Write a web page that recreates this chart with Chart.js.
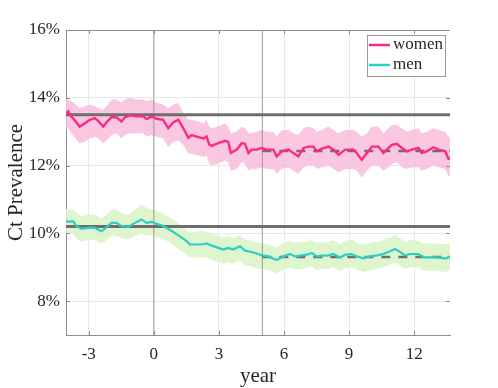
<!DOCTYPE html>
<html><head><meta charset="utf-8">
<script src="https://cdn.jsdelivr.net/npm/chart.js@4.4.0/dist/chart.umd.min.js"></script>
<style>html,body{margin:0;padding:0;background:#fff;}canvas{display:block;}</style>
</head><body>
<canvas id="c" width="498" height="388"></canvas>
<script>
// ---- data (years relative to intervention, prevalence in %) ----
const womenX = [-4.05,-3.95,-3.8,-3.6,-3.42,-3.18,-2.95,-2.72,-2.57,-2.33,
  -2.18,-1.95,-1.72,-1.49,-1.34,-1.1,-0.8,-0.49,-0.34,-0.1,
  0.12,0.43,0.66,0.9,1.13,1.36,1.59,1.74,2.05,2.3,
  2.43,2.55,2.66,2.97,3.28,3.43,3.55,3.82,4.05,4.2,
  4.36,4.51,4.74,4.97,5.2,5.51,5.66,5.89,6.2,6.43,
  6.66,6.9,7.12,7.36,7.51,7.74,8.05,8.28,8.51,8.82,
  9.2,9.35,9.58,9.82,10.05,10.35,10.58,10.82,10.97,11.2,
  11.43,11.66,11.89,12.2,12.35,12.58,12.89,13.12,13.43,13.58,
  13.65];
const womenY = [13.52,13.6,13.45,13.3,13.15,13.25,13.35,13.4,13.32,13.15,
  13.28,13.43,13.42,13.3,13.42,13.48,13.45,13.45,13.37,13.45,
  13.38,13.35,13.1,13.28,13.35,13.1,12.82,12.9,12.84,12.8,
  12.86,12.62,12.58,12.66,12.73,12.7,12.37,12.47,12.66,12.64,
  12.37,12.47,12.47,12.52,12.47,12.47,12.27,12.42,12.47,12.37,
  12.27,12.52,12.56,12.56,12.42,12.5,12.56,12.47,12.32,12.47,
  12.47,12.37,12.17,12.37,12.56,12.56,12.37,12.52,12.61,12.64,
  12.52,12.42,12.47,12.52,12.37,12.42,12.54,12.47,12.42,12.2,
  12.22];
const womenUpper = [14.0,13.95,13.9,13.8,13.7,13.75,13.8,13.75,13.7,13.65,
  13.75,13.95,13.95,13.85,13.95,14.0,13.95,13.95,13.9,13.95,
  13.85,13.8,13.7,13.8,13.85,13.55,13.35,13.35,13.3,13.25,
  13.35,13.15,13.1,13.15,13.25,13.15,12.95,13.0,13.15,13.1,
  12.95,12.95,13.0,13.05,13.0,13.0,12.85,13.05,13.05,12.95,
  12.9,13.1,13.15,13.1,13.0,13.05,13.15,13.05,12.95,13.05,
  13.05,13.0,12.85,12.95,13.15,13.15,12.95,13.1,13.2,13.2,
  13.1,13.0,13.05,13.1,12.95,13.0,13.1,13.05,13.0,12.85,
  12.85];
const womenLower = [13.05,13.1,12.95,12.8,12.65,12.7,12.8,12.85,12.8,12.65,
  12.75,12.9,12.95,12.8,12.9,12.95,12.95,12.95,12.85,12.9,
  12.85,12.8,12.55,12.7,12.75,12.6,12.35,12.35,12.3,12.25,
  12.3,12.05,12.0,12.05,12.15,12.1,11.85,11.9,12.1,12.05,
  11.85,11.9,11.9,11.95,11.9,11.9,11.75,11.9,11.95,11.85,
  11.75,11.95,12.0,12.0,11.9,11.95,12.0,11.9,11.8,11.9,
  11.9,11.85,11.65,11.85,12.0,12.0,11.85,11.95,12.05,12.1,
  11.95,11.9,11.95,11.95,11.85,11.9,12.0,11.95,11.9,11.7,
  11.7];

const menX = [-4.05,-3.95,-3.72,-3.57,-3.34,-3.03,-2.72,-2.41,-2.18,-1.95,
  -1.72,-1.49,-1.18,-0.95,-0.57,-0.34,-0.1,0.12,0.36,0.59,
  0.9,1.2,1.51,1.66,1.97,2.2,2.43,2.66,2.97,3.2,
  3.43,3.66,3.97,4.2,4.51,4.82,4.97,5.28,5.66,5.97,
  6.28,6.51,6.74,7.05,7.28,7.51,7.74,8.05,8.28,8.58,
  8.82,9.12,9.35,9.66,9.97,10.28,10.58,10.89,11.12,11.35,
  11.58,11.81,12.2,12.43,12.74,13.05,13.35,13.51,13.65];
const menY = [10.38,10.34,10.36,10.21,10.13,10.16,10.16,10.06,10.18,10.31,
  10.31,10.21,10.19,10.28,10.41,10.31,10.34,10.28,10.24,10.16,
  10.04,9.91,9.77,9.67,9.67,9.67,9.7,9.64,9.57,9.52,
  9.57,9.52,9.62,9.49,9.45,9.39,9.35,9.32,9.21,9.32,
  9.39,9.32,9.34,9.37,9.42,9.32,9.34,9.35,9.39,9.28,
  9.37,9.39,9.32,9.26,9.32,9.35,9.39,9.47,9.54,9.45,
  9.35,9.39,9.39,9.29,9.29,9.29,9.26,9.27,9.32];
const menUpper = [10.72,10.7,10.7,10.6,10.5,10.55,10.55,10.45,10.55,10.7,
  10.7,10.6,10.55,10.65,10.85,10.75,10.72,10.65,10.6,10.52,
  10.4,10.25,10.1,10.02,10.05,10.08,10.05,10.0,9.92,9.88,
  9.92,9.85,9.95,9.82,9.78,9.72,9.7,9.68,9.6,9.7,
  9.78,9.72,9.75,9.75,9.8,9.72,9.72,9.75,9.8,9.68,
  9.78,9.82,9.72,9.68,9.72,9.75,9.8,9.88,9.95,9.85,
  9.75,9.8,9.78,9.7,9.7,9.7,9.68,9.68,9.72];
const menLower = [10.0,9.98,9.98,9.85,9.75,9.8,9.8,9.7,9.8,9.92,
  9.92,9.85,9.82,9.9,10.0,9.92,9.95,9.9,9.85,9.78,
  9.65,9.5,9.38,9.28,9.28,9.28,9.3,9.22,9.15,9.1,
  9.15,9.1,9.2,9.05,9.02,8.95,8.95,8.92,8.82,8.92,
  9.0,8.92,8.95,8.98,9.02,8.92,8.95,8.95,9.0,8.88,
  8.98,9.0,8.92,8.86,8.92,8.95,9.0,9.08,9.12,9.05,
  8.95,9.0,9.0,8.9,8.9,8.9,8.86,8.87,8.92];

const baselineLevels = [13.5, 10.2];     // pre-intervention (women, men)
const postLevels = [12.43, 9.3];         // post period (women, men)
const postStartYear = 5;
const markerYears = [0, 5];
const xTicks = [-3, 0, 3, 6, 9, 12];
const yTicks = [8, 10, 12, 14, 16];
const xRange = [-4.05, 13.65];
const yRange = [7, 16];
const seriesNames = ['women', 'men'];

// ---- styles ----
const FONT = "'Liberation Serif', 'Times New Roman', serif";
const cWomen = '#fb2a87', cWomenBand = 'rgba(248,190,218,0.85)';
const cMen = '#2ccfc4', cMenBand = 'rgba(220,244,200,0.9)';
const cRef = '#6e6e6e';

function pts(xs, ys) { return xs.map((x, i) => ({x: x, y: ys[i]})); }
function hline(y, x0, x1) { return [{x: x0, y: y}, {x: x1, y: y}]; }

const datasets = [
  {label: seriesNames[0], data: pts(womenX, womenY), borderColor: cWomen, borderWidth: 2.4, order: 0},
  {label: seriesNames[1], data: pts(menX, menY), borderColor: cMen, borderWidth: 2.2, order: 1},
  {label: 'postW', data: hline(postLevels[0], postStartYear, xRange[1]), borderColor: cRef, borderWidth: 2.4, borderDash: [9, 8], order: 2},
  {label: 'postM', data: hline(postLevels[1], postStartYear, xRange[1]), borderColor: cRef, borderWidth: 2.4, borderDash: [9, 8], order: 3},
  {label: 'baseW', data: hline(baselineLevels[0], xRange[0], xRange[1]), borderColor: cRef, borderWidth: 3, order: 4},
  {label: 'baseM', data: hline(baselineLevels[1], xRange[0], xRange[1]), borderColor: cRef, borderWidth: 3, order: 5},
  {label: 'v0', data: [{x: markerYears[0], y: yRange[0]}, {x: markerYears[0], y: yRange[1]}], borderColor: '#9a9a9a', borderWidth: 1, order: 6},
  {label: 'v1', data: [{x: markerYears[1], y: yRange[0]}, {x: markerYears[1], y: yRange[1]}], borderColor: '#9a9a9a', borderWidth: 1, order: 7},
  {label: 'wU', data: pts(womenX, womenUpper), borderWidth: 0, borderColor: 'rgba(0,0,0,0)', backgroundColor: cWomenBand, fill: '+1', order: 8},
  {label: 'wL', data: pts(womenX, womenLower), borderWidth: 0, borderColor: 'rgba(0,0,0,0)', fill: false, order: 9},
  {label: 'mU', data: pts(menX, menUpper), borderWidth: 0, borderColor: 'rgba(0,0,0,0)', backgroundColor: cMenBand, fill: '+1', order: 10},
  {label: 'mL', data: pts(menX, menLower), borderWidth: 0, borderColor: 'rgba(0,0,0,0)', fill: false, order: 11}
];

const decor = {
  id: 'decor',
  afterDraw(chart) {
    const ctx = chart.ctx, a = chart.chartArea;
    const xs = chart.scales.x, ys = chart.scales.y;
    ctx.save();
    ctx.strokeStyle = '#8c8c8c';
    ctx.lineWidth = 1;
    ctx.beginPath();
    ctx.moveTo(a.left, a.top + 0.5); ctx.lineTo(a.right, a.top + 0.5);
    yTicks.forEach(v => {
      const y = Math.round(ys.getPixelForValue(v)) + 0.5;
      ctx.moveTo(a.left, y); ctx.lineTo(a.left + 4, y);
      ctx.moveTo(a.right, y); ctx.lineTo(a.right - 4, y);
    });
    xTicks.forEach(v => {
      const x = Math.round(xs.getPixelForValue(v)) + 0.5;
      ctx.moveTo(x, a.bottom); ctx.lineTo(x, a.bottom - 4);
      ctx.moveTo(x, a.top); ctx.lineTo(x, a.top + 4);
    });
    ctx.stroke();

    // legend
    const lx = 367, ly = 35, lw = 78, lh = 41;
    ctx.fillStyle = '#ffffff';
    ctx.fillRect(lx, ly, lw, lh);
    ctx.strokeStyle = '#9a9a9a';
    ctx.strokeRect(lx + 0.5, ly + 0.5, lw, lh);
    const items = [[seriesNames[0], cWomen, 45], [seriesNames[1], cMen, 65]];
    ctx.font = '17px ' + FONT;
    ctx.textBaseline = 'middle';
    ctx.textAlign = 'left';
    items.forEach(it => {
      ctx.strokeStyle = it[1];
      ctx.lineWidth = 2.5;
      ctx.beginPath(); ctx.moveTo(369, it[2]); ctx.lineTo(390, it[2]); ctx.stroke();
      ctx.fillStyle = '#262626';
      ctx.fillText(it[0], 393, it[2]);
    });

    // axis titles
    ctx.fillStyle = '#262626';
    ctx.font = '21px ' + FONT;
    ctx.textAlign = 'center';
    ctx.fillText('year', (a.left + a.right) / 2, 376);
    ctx.translate(16, (a.top + a.bottom) / 2);
    ctx.rotate(-Math.PI / 2);
    ctx.fillText('Ct Prevalence', 0, 0);
    ctx.restore();
  }
};

new Chart(document.getElementById('c'), {
  type: 'line',
  data: {datasets: datasets},
  options: {
    responsive: false, animation: false, devicePixelRatio: 1,
    layout: {padding: {left: 0, right: 48, top: 30, bottom: 0}},
    plugins: {legend: {display: false}, tooltip: {enabled: false}},
    elements: {point: {radius: 0}, line: {tension: 0}},
    scales: {
      x: {
        type: 'linear', min: xRange[0], max: xRange[1],
        afterBuildTicks: s => { s.ticks = xTicks.map(v => ({value: v})); },
        afterFit: s => { s.height = 53; },
        grid: {color: '#e8e8e8', drawTicks: false},
        border: {display: true, color: '#8c8c8c'},
        ticks: {padding: 9, maxRotation: 0, color: '#262626', font: {family: FONT, size: 17}, callback: v => String(v)}
      },
      y: {
        type: 'linear', min: yRange[0], max: yRange[1],
        afterBuildTicks: s => { s.ticks = yTicks.map(v => ({value: v})); },
        afterFit: s => { s.width = 66; },
        grid: {color: '#e8e8e8', drawTicks: false},
        border: {display: true, color: '#8c8c8c'},
        ticks: {padding: 6, color: '#262626', font: {family: FONT, size: 17}, callback: v => v + '%'}
      }
    }
  },
  plugins: [decor]
});
</script>
</body></html>
